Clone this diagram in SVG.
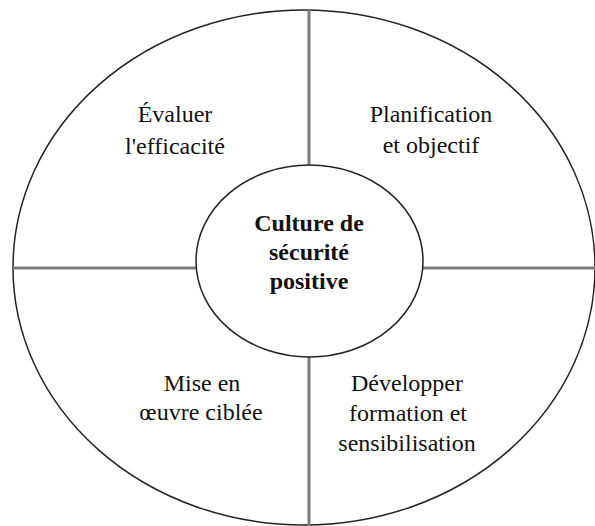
<svg xmlns="http://www.w3.org/2000/svg" width="595" height="526" viewBox="0 0 595 526">
<style>
.ring{fill:#fff;stroke:#222;stroke-width:1.5}
.div{stroke:#7a7a7a;stroke-width:3;fill:none}
</style>
<rect width="595" height="526" fill="#fff"/>
<g id="outer">
<ellipse class="ring" cx="304" cy="267.5" rx="291" ry="257.5"/>
</g>
<g id="connectors">
<line class="div" x1="309" y1="10" x2="309" y2="166"/>
<line class="div" x1="309" y1="356" x2="309" y2="526"/>
<line class="div" x1="13" y1="268" x2="197" y2="268"/>
<line class="div" x1="422" y1="268" x2="595" y2="268"/>
</g>
<g font-family="Liberation Serif" font-size="24" fill="#111" text-anchor="middle">
<g id="center">
<ellipse class="ring" cx="309.5" cy="261" rx="113.5" ry="96"/>
<text font-weight="bold" x="309" y="231">Culture de</text>
<text font-weight="bold" x="309" y="260">sécurité</text>
<text font-weight="bold" x="309" y="289">positive</text>
</g>
<g id="evaluer">
<text x="175" y="122">Évaluer</text>
<text x="175" y="154">l'efficacité</text>
</g>
<g id="planification">
<text x="431" y="122">Planification</text>
<text x="431" y="153">et objectif</text>
</g>
<g id="mise">
<text x="202" y="391">Mise en</text>
<text x="201" y="420">œuvre ciblée</text>
</g>
<g id="developper">
<text x="407" y="391">Développer</text>
<text x="408" y="421">formation et</text>
<text x="407" y="451">sensibilisation</text>
</g>
</g>
</svg>
